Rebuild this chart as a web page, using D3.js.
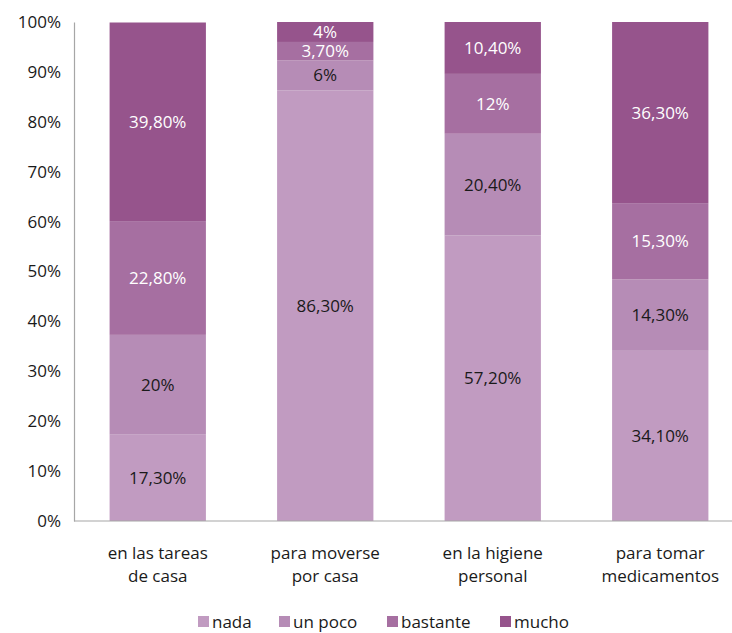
<!DOCTYPE html>
<html>
<head>
<meta charset="utf-8">
<script src="https://cdn.jsdelivr.net/npm/d3@7"></script>
<style>
  body { margin: 0; background: #fff; }
  text { font-family: "Open Sans", sans-serif; }
</style>
</head>
<body>
<div id="chart"></div>
<script>
(function () {
    let w = 732
    let h = 633

    let categories = [["en las tareas", "de casa"], ["para moverse", "por casa"], ["en la higiene", "personal"], ["para tomar", "medicamentos"]]
    let seriesNames = ["nada", "un poco", "bastante", "mucho"]
    let nada = [17.3, 86.3, 57.2, 34.1]
    let unPoco = [20, 6, 20.4, 14.3]
    let bastante = [22.8, 3.7, 12, 15.3]
    let mucho = [39.8, 4, 10.4, 36.3]
    let valueLabels = [
        ["17,30%", "86,30%", "57,20%", "34,10%"],
        ["20%", "6%", "20,40%", "14,30%"],
        ["22,80%", "3,70%", "12%", "15,30%"],
        ["39,80%", "4%", "10,40%", "36,30%"]
    ]
    let yTicks = [0, 10, 20, 30, 40, 50, 60, 70, 80, 90, 100]

    let colors = ["#c19bc1", "#b68cb6", "#a66fa1", "#96548c"]
    let textColors = ["#1a1a1a", "#1a1a1a", "#ffffff", "#ffffff"]
    let fs = "17px"

    let svg = d3.select("#chart")
        .append("svg")
        .attr("width", w)
        .attr("height", h)

    let left = 74, right = 744, top = 22, bottom = 521

    let x = d3.scaleBand()
        .domain(d3.range(categories.length))
        .range([left, right])
        .paddingInner(0.425)
        .paddingOuter(0.2125)

    let y = d3.scaleLinear()
        .domain([0, 100])
        .range([bottom, top])

    // build stacked table from the arrays
    let table = categories.map((c, i) => ({
        i: i,
        "nada": nada[i],
        "un poco": unPoco[i],
        "bastante": bastante[i],
        "mucho": mucho[i]
    }))
    let stacked = d3.stack().keys(seriesNames)(table)

    let layers = svg.selectAll("g.layer")
        .data(stacked)
        .enter()
        .append("g")
        .attr("class", "layer")
        .attr("fill", (d, k) => colors[k])

    layers.selectAll("rect")
        .data(d => d)
        .enter()
        .append("rect")
        .attr("x", d => x(d.data.i))
        .attr("y", d => y(d[1]))
        .attr("width", x.bandwidth())
        .attr("height", d => y(d[0]) - y(d[1]))

    stacked.forEach((layer, k) => {
        svg.selectAll("text.lab" + k)
            .data(layer)
            .enter()
            .append("text")
            .attr("class", "lab" + k)
            .attr("x", d => x(d.data.i) + x.bandwidth() / 2)
            .attr("y", d => (y(d[0]) + y(d[1])) / 2)
            .attr("dy", "0.35em")
            .attr("text-anchor", "middle")
            .style("font-size", fs)
            .attr("fill", textColors[k])
            .text((d, i) => valueLabels[k][i])
    })

    // y axis
    let yAxis = d3.axisLeft(y)
        .tickValues(yTicks)
        .tickFormat(d => d + "%")
        .tickSize(0)
        .tickPadding(13)
    let gy = svg.append("g")
        .attr("transform", "translate(" + left + ",0)")
        .call(yAxis)
    gy.select(".domain").attr("stroke", "#a6a6a6").attr("stroke-width", 1.2)
    gy.selectAll("text").style("font-size", fs).style("font-family", "Open Sans, sans-serif").attr("fill", "#1a1a1a")

    // x axis line
    svg.append("line")
        .attr("x1", left).attr("x2", w)
        .attr("y1", bottom).attr("y2", bottom)
        .attr("stroke", "#a6a6a6")
        .attr("stroke-width", 1.2)

    // category labels
    categories.forEach((c, i) => {
        let t = svg.append("text")
            .attr("x", x(i) + x.bandwidth() / 2)
            .attr("y", 559)
            .attr("text-anchor", "middle")
            .style("font-size", fs)
            .attr("fill", "#1a1a1a")
        t.append("tspan").attr("x", x(i) + x.bandwidth() / 2).text(c[0])
        t.append("tspan").attr("x", x(i) + x.bandwidth() / 2).attr("dy", 23).text(c[1])
    })

    // legend
    let legendX = [198, 279, 387, 500]
    let legend = svg.selectAll("g.legend")
        .data(seriesNames)
        .enter()
        .append("g")
        .attr("class", "legend")
        .attr("transform", (d, k) => "translate(" + legendX[k] + ",616)")
    legend.append("rect")
        .attr("width", 11)
        .attr("height", 11)
        .attr("fill", (d, k) => colors[k])
    legend.append("text")
        .attr("x", 14)
        .attr("y", 6)
        .attr("dy", "0.35em")
        .style("font-size", fs)
        .attr("fill", "#1a1a1a")
        .text(d => d)
})()
</script>
</body>
</html>
